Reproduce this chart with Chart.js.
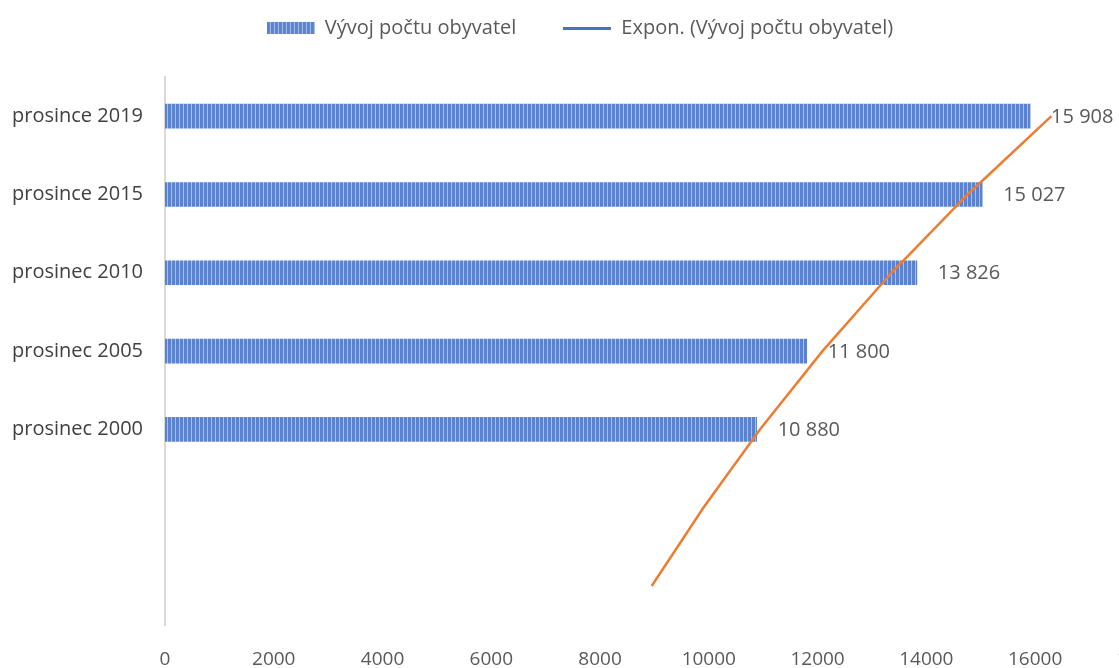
<!DOCTYPE html>
<html>
<head>
<meta charset="utf-8">
<script src="https://cdn.jsdelivr.net/npm/chart.js@4/dist/chart.umd.min.js"></script>
<style>
  html, body { margin: 0; padding: 0; background: #fff; overflow: hidden; }
  #wrap { position: relative; width: 1186px; height: 668px; }
</style>
</head>
<body>
<div id="wrap"><canvas id="chart"></canvas></div>
<script>
// --- Data ---
const categories = ['prosince 2019', 'prosince 2015', 'prosinec 2010', 'prosinec 2005', 'prosinec 2000', '', ''];
const populationValues = [15908, 15027, 13826, 11800, 10880, null, null];
// exponential trendline (extends two periods back)
const trendValues = [16300, 14760, 13360, 12090, 10940, 9900, 8950];
const xTickMax = 18000;
const xTickStep = 2000;
const seriesLabel = 'Vývoj počtu obyvatel';
const trendLabel = 'Expon. (Vývoj počtu obyvatel)';

const FONT = "'Open Sans', sans-serif";
const BLUE = '#4472C4';
const ORANGE = '#ED7D31';

// --- Striped fill like the original bars ---
function stripeCanvas(w, h) {
    const c = document.createElement('canvas');
    c.width = w; c.height = h;
    const p = c.getContext('2d');
    p.fillStyle = '#5A82CE';
    p.fillRect(0, 0, w, h);
    p.fillStyle = '#A9C1EA';
    for (let x = 3; x < w; x += 4) p.fillRect(x, 0, 1, h);
    return c;
}
const ctx = document.getElementById('chart').getContext('2d');
const barPattern = ctx.createPattern(stripeCanvas(4, 1), 'repeat');

// legend icons
const barIcon = stripeCanvas(48, 12);
const lineIcon = document.createElement('canvas');
lineIcon.width = 48; lineIcon.height = 3;
(function() {
    const p = lineIcon.getContext('2d');
    p.fillStyle = BLUE;
    p.fillRect(0, 0, 48, 3);
})();

const fmt = v => v.toString().replace(/\B(?=(\d{3})+(?!\d))/g, ' ');

// --- value labels right of bars ---
const barLabels = {
    id: 'barLabels',
    afterDatasetsDraw(chart) {
        const meta = chart.getDatasetMeta(1);
        const c = chart.ctx;
        c.save();
        c.font = '20px ' + FONT;
        c.fillStyle = '#595959';
        c.textAlign = 'left';
        c.textBaseline = 'middle';
        meta.data.forEach((bar, i) => {
            const v = populationValues[i];
            if (v == null) return;
            c.fillText(fmt(v), bar.x + 21, bar.y + 1);
        });
        c.restore();
    }
};

// --- legend: fixed block height, text row pulled up ---
const legendFit = {
    id: 'legendFit',
    beforeInit(chart) {
        const fit = chart.legend.fit;
        chart.legend.fit = function() {
            fit.bind(chart.legend)();
            this.height = 77;
        };
    },
    afterLayout(chart) {
        chart.legend.top = -29;
        chart.legend.right = 1160;
    }
};

new Chart(ctx, {
    data: {
        labels: categories,
        datasets: [
            {
                type: 'line',
                label: trendLabel,
                data: trendValues,
                borderColor: ORANGE,
                borderWidth: 2.5,
                pointRadius: 0,
                tension: 0,
                order: 1
            },
            {
                type: 'bar',
                label: seriesLabel,
                data: populationValues,
                backgroundColor: barPattern,
                borderWidth: 0,
                barThickness: 24,
                order: 2
            }
        ]
    },
    options: {
        indexAxis: 'y',
        responsive: true,
        maintainAspectRatio: false,
        animation: false,
        layout: { padding: { top: 0, left: 0, right: 0, bottom: -18 } },
        plugins: {
            tooltip: { enabled: false },
            legend: {
                position: 'top',
                labels: {
                    font: { family: FONT, size: 20 },
                    color: '#595959',
                    padding: 47,
                    usePointStyle: true,
                    pointStyleWidth: 48,
                    boxHeight: 12,
                    generateLabels: () => [
                        { text: seriesLabel, pointStyle: barIcon, datasetIndex: 1, fontColor: '#595959', lineWidth: 0, hidden: false },
                        { text: trendLabel, pointStyle: lineIcon, datasetIndex: 0, fontColor: '#595959', lineWidth: 0, hidden: false }
                    ]
                }
            }
        },
        scales: {
            x: {
                min: 0,
                max: xTickMax,
                grid: { display: false },
                border: { display: false },
                ticks: {
                    stepSize: xTickStep,
                    maxRotation: 0,
                    padding: 15,
                    color: '#595959',
                    font: { family: FONT, size: 19 },
                    callback: v => String(v)
                }
            },
            y: {
                grid: { display: false },
                border: { display: true, color: '#D9D9D9', width: 2 },
                afterFit: s => { s.width = 165; },
                ticks: {
                    padding: 14,
                    color: '#404040',
                    font: { family: FONT, size: 20 }
                }
            }
        }
    },
    plugins: [barLabels, legendFit]
});
</script>
</body>
</html>
